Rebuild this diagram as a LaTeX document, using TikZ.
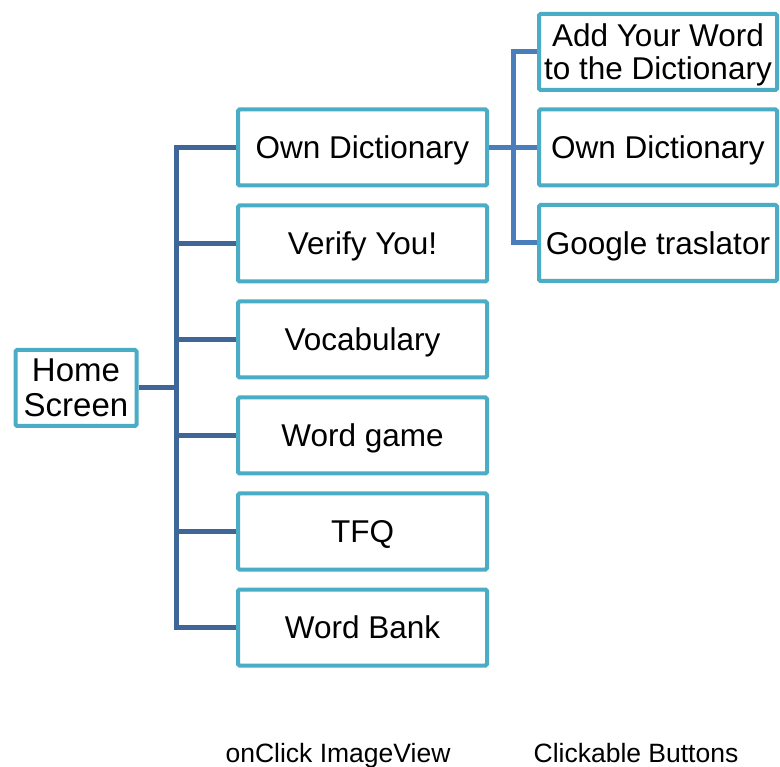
\documentclass[tikz,border=0pt]{standalone}
\usepackage{fontspec}
\setmainfont{Liberation Sans}
\usetikzlibrary{positioning}
\definecolor{boxline}{HTML}{4BACC6}
\definecolor{linkdark}{HTML}{3F6699}
\definecolor{linklight}{HTML}{4A7EBB}
\tikzstyle{screen} = [rectangle, minimum height=76pt, inner sep=0pt, text depth=0pt, text centered, align=center, draw=boxline, line width=4pt, rounded corners=1.5pt, fill=white, font=\fontsize{31.5}{33}\selectfont]
\tikzstyle{menu} = [screen, minimum width=249pt]
\tikzstyle{button} = [screen, minimum width=238pt]
\tikzstyle{link} = [line width=5pt, draw=linkdark]
\tikzstyle{caption} = [text depth=0pt, font=\fontsize{26.5}{30}\selectfont]

\begin{document}
\begin{tikzpicture}[x=1pt, y=-1pt, node distance=16pt]
\useasboundingbox (0,0) rectangle (780,767);

% Home screen
\node (home) [screen, minimum width=121pt, font=\fontsize{33}{35}\selectfont] at (76,388) {Home\\Screen};

% onClick image views
\node (dict) [menu] at (362.5,147.5) {Own Dictionary};
\node (verify) [menu, below=of dict] {Verify You!};
\node (vocab) [menu, below=of verify] {Vocabulary};
\node (game) [menu, below=of vocab] {Word game};
\node (tfq) [menu, below=of game] {TFQ};
\node (bank) [menu, below=of tfq] {Word Bank};

% Clickable buttons
\node (own) [button, right=48pt of dict] {Own Dictionary};
\node (add) [button, above=15.5pt of own] {Add Your Word\\to the Dictionary};
\node (google) [button, below=15.5pt of own] {Google traslator};

% Captions
\node (click) [caption] at (338,753) {onClick ImageView};
\node (buttons) [caption] at (636,753) {Clickable Buttons};

% Links
\draw [link] (home.east) -- ++(38,0) coordinate (hub);
\draw [link] (dict.west) -| (hub |- bank.west) -- (bank.west);
\foreach \b in {verify,vocab,game,tfq}
  \draw [link] (hub |- \b.west) -- (\b.west);

\draw [link, draw=linklight] (dict.east) -- ++(24,0) coordinate (hub2);
\draw [link, draw=linklight] (add.west) -| (hub2 |- google.west) -- (google.west);
\draw [link, draw=linklight] (hub2) -- (own.west);

\end{tikzpicture}
\end{document}
